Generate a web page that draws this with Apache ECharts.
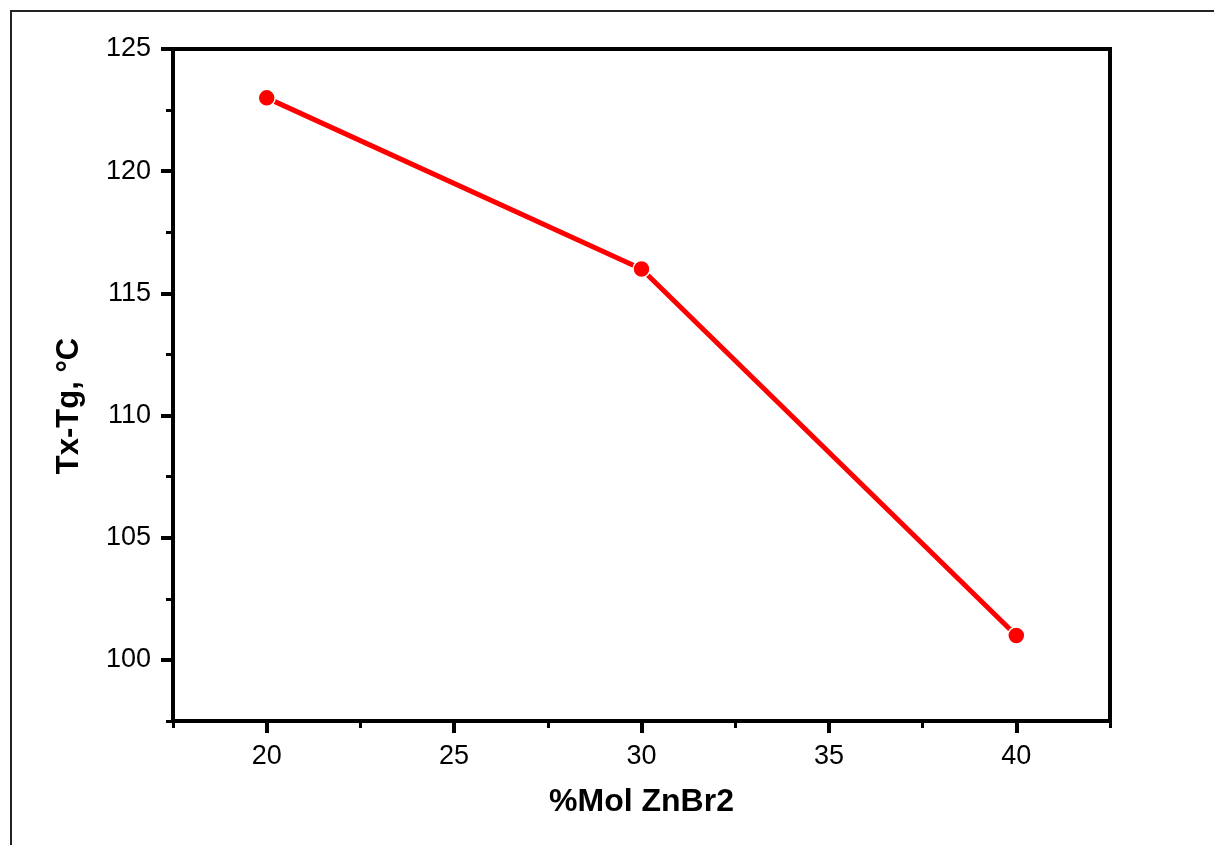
<!DOCTYPE html>
<html>
<head>
<meta charset="utf-8">
<script src="https://cdn.jsdelivr.net/npm/echarts@6/dist/echarts.min.js"></script>
<style>html,body{margin:0;padding:0;background:#fff;}#c{width:1214px;height:845px;}</style>
</head>
<body>
<div id="c"></div>
<script>
const xValues = [20, 30, 40];
const yValues = [123, 116, 101];
const xMajorTicks = [20, 25, 30, 35, 40];
const xMinorTicks = [17.5, 22.5, 27.5, 32.5, 37.5, 42.5];
const yMajorTicks = [100, 105, 110, 115, 120, 125];
const yMinorTicks = [97.5, 102.5, 107.5, 112.5, 117.5, 122.5];
const xTitle = '%Mol ZnBr2';
const yTitle = 'Tx-Tg, °C';

const font = 'Liberation Sans, Arial, sans-serif';
const chart = echarts.init(document.getElementById('c'));
const axisLine = {show: true, lineStyle: {color: '#000', width: 4}};
chart.setOption({
  animation: false,
  backgroundColor: '#fff',
  graphic: [{
    type: 'rect', silent: true, z: -1,
    shape: {x: 11, y: 11, width: 1400, height: 1000},
    style: {fill: 'none', stroke: '#222', lineWidth: 2}
  }],
  grid: {left: 173, top: 49, right: 104, bottom: 124, show: true, borderColor: '#000', borderWidth: 4, backgroundColor: 'transparent'},
  xAxis: [{
    type: 'value', min: 17.5, max: 42.5, interval: 2.5,
    name: xTitle, nameLocation: 'middle', nameGap: 65,
    nameTextStyle: {fontFamily: font, fontSize: 32, fontWeight: 'bold', color: '#000'},
    axisLine: axisLine,
    axisTick: {show: true, length: 12, customValues: xMajorTicks, lineStyle: {color: '#000', width: 4}},
    axisLabel: {show: true, customValues: xMajorTicks, margin: 22, fontFamily: font, fontSize: 27, color: '#000'},
    splitLine: {show: false}
  }, {
    type: 'value', min: 17.5, max: 42.5, interval: 2.5, position: 'bottom',
    axisLine: {show: false},
    axisTick: {show: true, length: 7, customValues: xMinorTicks, lineStyle: {color: '#000', width: 3}},
    axisLabel: {show: false},
    splitLine: {show: false}
  }],
  yAxis: [{
    type: 'value', min: 97.5, max: 125, interval: 2.5,
    name: yTitle, nameLocation: 'middle', nameGap: 88,
    nameTextStyle: {fontFamily: font, fontSize: 31, fontWeight: 'bold', color: '#000', padding: [0, 42, 0, 0]},
    axisLine: axisLine,
    axisTick: {show: true, length: 12, customValues: yMajorTicks, lineStyle: {color: '#000', width: 4}},
    axisLabel: {show: true, customValues: yMajorTicks, margin: 22, fontFamily: font, fontSize: 27, color: '#000'},
    splitLine: {show: false}
  }, {
    type: 'value', min: 97.5, max: 125, interval: 2.5, position: 'left',
    axisLine: {show: false},
    axisTick: {show: true, length: 7, customValues: yMinorTicks, lineStyle: {color: '#000', width: 3}},
    axisLabel: {show: false},
    splitLine: {show: false}
  }],
  series: [{
    type: 'line',
    data: xValues.map((x, i) => [x, yValues[i]]),
    symbol: 'circle', symbolSize: 17,
    lineStyle: {color: '#ff0000', width: 5},
    itemStyle: {color: '#ff0000', borderColor: '#fff', borderWidth: 1.5},
    z: 5
  }]
});
</script>
</body>
</html>
